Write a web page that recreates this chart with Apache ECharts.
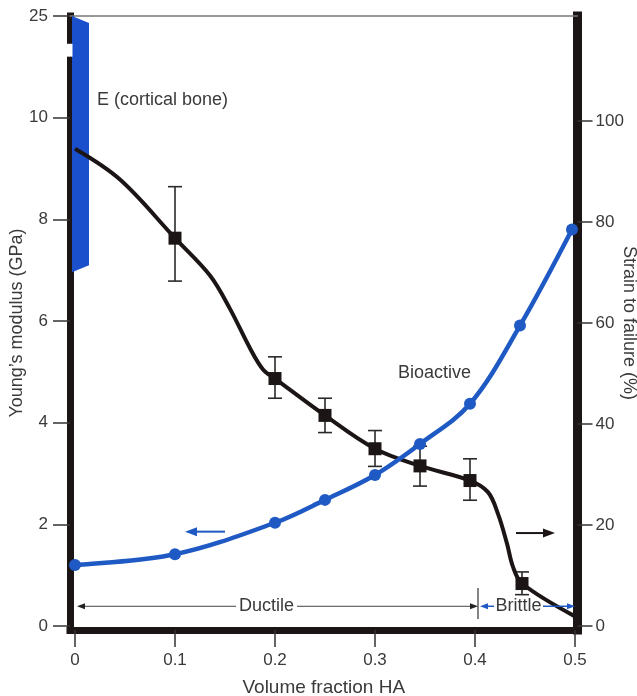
<!DOCTYPE html>
<html><head><meta charset="utf-8">
<script src="https://cdn.jsdelivr.net/npm/echarts@6/dist/echarts.min.js"></script>
<style>html,body{margin:0;padding:0;background:#fff}#c{width:637px;height:696px}</style>
</head><body><div id="c"></div>
<script>
// ---- data ----
const xTicks = [0, 0.1, 0.2, 0.3, 0.4, 0.5];
const modulusTicks = [0, 2, 4, 6, 8, 10, 25];
const strainTicks = [0, 20, 40, 60, 80, 100];

// Young's modulus (GPa), bioactive composite (blue, left axis)
const modulusX = [0, 0.1, 0.2, 0.25, 0.3, 0.345, 0.395, 0.445, 0.497];
const modulusY = [1.2, 1.41, 2.03, 2.48, 2.97, 3.58, 4.37, 5.91, 7.8];

// Strain to failure (%), measured points with error bars (black, right axis)
const strainX = [0.1, 0.2, 0.25, 0.3, 0.345, 0.395, 0.447];
const strainY = [76.8, 49.0, 41.7, 35.1, 31.7, 28.8, 8.4];
const strainLow = [68.3, 45.1, 38.3, 31.6, 27.7, 24.9, 6.2];
const strainHigh = [87.0, 53.3, 45.1, 38.7, 35.6, 33.1, 10.7];

// Strain-to-failure curve as traced on the figure
const curveX = [0, 0.045, 0.1, 0.135, 0.155, 0.175, 0.188, 0.2, 0.25, 0.3, 0.345, 0.395, 0.413, 0.423, 0.432, 0.438, 0.447, 0.5];
const curveY = [94.5, 88.4, 76.8, 69.4, 62.8, 55.0, 50.8, 49.0, 41.7, 35.1, 31.7, 28.8, 26.5, 22.2, 16.3, 11.7, 8.4, 1.9];

// Cortical bone modulus range (GPa)
const boneRange = [7, 25];

// ---- styling ----
const FONT = 'Liberation Sans';
const TXT = '#3a3a3a';
const INK = '#1c1515';
const BLUE = '#1f5ac4';
const BONE = '#1b50cc';

// broken left axis: 10..25 GPa squeezed into 10..12
function brk(v) { return v <= 10 ? v : 10 + (v - 10) * 2 / 15; }
function unbrk(v) { return v <= 10 ? v : 10 + (v - 10) * 7.5; }

const chart = echarts.init(document.getElementById('c'), null, { renderer: 'canvas' });

const labelStyle = { color: TXT, fontFamily: FONT, fontSize: 17 };

const option = {
  animation: false,
  backgroundColor: '#fff',
  grid: { left: 70, right: 59.5, top: 16, bottom: 66, containLabel: false, outerBoundsMode: 'none' },
  xAxis: [{
    type: 'value', min: -0.005, max: 0.5025,
    axisLine: { show: true, onZero: false, lineStyle: { color: INK, width: 7, cap: 'square' } },
    axisTick: { show: true, length: 17, customValues: xTicks, lineStyle: { color: '#333', width: 1.5 } },
    axisLabel: Object.assign({ customValues: xTicks, margin: 22,
      formatter: v => (Math.abs(v) < 1e-9 ? '0' : (+v).toFixed(1)) }, labelStyle),
    splitLine: { show: false },
    name: 'Volume fraction HA', nameLocation: 'middle', nameGap: 48, nameMoveOverlap: false,
    nameTextStyle: { color: TXT, fontFamily: FONT, fontSize: 19 }
  }, {
    type: 'value', position: 'top', min: -0.005, max: 0.5025,
    axisLine: { show: true, onZero: false, lineStyle: { color: '#777', width: 1.5 } },
    axisTick: { show: false }, axisLabel: { show: false }, splitLine: { show: false }
  }],
  yAxis: [{
    type: 'value', position: 'left', min: -0.08, max: 12,
    axisLine: { show: true, onZero: false, lineStyle: { color: INK, width: 7, cap: 'square' } },
    axisTick: { show: true, length: 17, customValues: modulusTicks.map(brk), lineStyle: { color: '#333', width: 1.5 } },
    axisLabel: Object.assign({ customValues: modulusTicks.map(brk), margin: 22,
      formatter: v => String(Math.round(unbrk(v))) }, labelStyle),
    splitLine: { show: false },
    name: "Young’s modulus (GPa)", nameLocation: 'middle', nameGap: 44, nameRotate: 90, nameMoveOverlap: false,
    nameTextStyle: { color: TXT, fontFamily: FONT, fontSize: 18 }
  }, {
    type: 'value', position: 'right', min: -0.8, max: 120.8,
    axisLine: { show: true, onZero: false, lineStyle: { color: INK, width: 9, cap: 'square' } },
    axisTick: { show: true, length: 15, customValues: strainTicks, lineStyle: { color: '#333', width: 1.5 } },
    axisLabel: Object.assign({ customValues: strainTicks, margin: 18 }, labelStyle),
    splitLine: { show: false },
    name: 'Strain to failure (%)', nameLocation: 'middle', nameGap: 42, nameRotate: -90, nameMoveOverlap: false,
    nameTextStyle: { color: TXT, fontFamily: FONT, fontSize: 18 }
  }],
  series: [
    {
      name: 'E (cortical bone)', type: 'custom', xAxisIndex: 0, yAxisIndex: 0, z: 2,
      encode: { x: 0, y: [1, 2] },
      data: [[0, brk(boneRange[0]), brk(boneRange[1])]],
      renderItem: function (params, api) {
        const top = api.coord([api.value(0), api.value(2)]);
        const bot = api.coord([api.value(0), api.value(1)]);
        const xl = top[0] - 3, xr = top[0] + 14;
        return {
          type: 'polygon',
          shape: { points: [[xl, top[1]], [xr, top[1] + 7], [xr, bot[1] - 5], [xl, bot[1] + 2]] },
          style: { fill: BONE }
        };
      }
    },
    {
      name: 'Strain curve', type: 'line', xAxisIndex: 0, yAxisIndex: 1, z: 3,
      data: curveX.map((x, i) => [x, curveY[i]]),
      smooth: 0.35, symbol: 'none',
      lineStyle: { color: INK, width: 4 }
    },
    {
      name: 'Error bars', type: 'custom', xAxisIndex: 0, yAxisIndex: 1, z: 3,
      encode: { x: 0, y: [1, 2] },
      data: strainX.map((x, i) => [x, strainLow[i], strainHigh[i]]),
      renderItem: function (params, api) {
        const hi = api.coord([api.value(0), api.value(2)]);
        const lo = api.coord([api.value(0), api.value(1)]);
        const w = 7;
        const st = { stroke: '#2a2a2a', lineWidth: 1.6 };
        return {
          type: 'group', children: [
            { type: 'line', shape: { x1: hi[0], y1: hi[1], x2: lo[0], y2: lo[1] }, style: st },
            { type: 'line', shape: { x1: hi[0] - w, y1: hi[1], x2: hi[0] + w, y2: hi[1] }, style: st },
            { type: 'line', shape: { x1: lo[0] - w, y1: lo[1], x2: lo[0] + w, y2: lo[1] }, style: st }
          ]
        };
      }
    },
    {
      name: 'Strain to failure', type: 'scatter', xAxisIndex: 0, yAxisIndex: 1, z: 4,
      data: strainX.map((x, i) => [x, strainY[i]]),
      symbol: 'rect', symbolSize: 13,
      itemStyle: { color: INK, opacity: 1 }
    },
    {
      name: 'Bioactive', type: 'line', xAxisIndex: 0, yAxisIndex: 0, z: 5,
      data: modulusX.map((x, i) => [x, brk(modulusY[i])]),
      smooth: 0.35, symbol: 'circle', symbolSize: 12,
      itemStyle: { color: BLUE, opacity: 1 },
      lineStyle: { color: BLUE, width: 4.5 }
    }
  ]
};

chart.setOption(option);

// ---- annotations placed in data space ----
function pL(x, y) { return chart.convertToPixel({ xAxisIndex: 0, yAxisIndex: 0 }, [x, y]); }
function pR(x, y) { return chart.convertToPixel({ xAxisIndex: 0, yAxisIndex: 1 }, [x, y]); }

function text(str, p, align, color) {
  return { type: 'text', x: p[0], y: p[1], z: 20,
    style: { text: str, fill: color || TXT, font: '18px "' + FONT + '"', align: align || 'left', verticalAlign: 'middle' } };
}
function seg(a, b, color, w) {
  return { type: 'line', z: 20, shape: { x1: a[0], y1: a[1], x2: b[0], y2: b[1] }, style: { stroke: color, lineWidth: w } };
}
function head(tip, dir, color, len, half) {
  return { type: 'polygon', z: 21,
    shape: { points: [[tip[0], tip[1]], [tip[0] - dir * len, tip[1] - half], [tip[0] - dir * len, tip[1] + half]] },
    style: { fill: color } };
}

const g = [];
// axis break on left axis (between about 19 and 21 GPa on the squeezed part)
const b1 = pL(-0.005, brk(20.9)), b2 = pL(-0.005, brk(19.0));
g.push({ type: 'rect', z: 19, shape: { x: b1[0] - 5, y: b1[1], width: 7.5, height: b2[1] - b1[1] }, style: { fill: '#fff' } });

g.push(text('E (cortical bone)', pL(0.022, 10.35), 'left'));
g.push(text('Bioactive', pL(0.323, 4.98), 'left'));

// blue arrow -> left axis
const ba0 = pL(0.15, 1.855), ba1 = pL(0.11, 1.855);
g.push(seg(ba0, [ba1[0] + 8, ba1[1]], BLUE, 2));
g.push(head(ba1, -1, BLUE, 12, 4.5));
// black arrow -> right axis
const ka0 = pR(0.441, 18.4), ka1 = pR(0.48, 18.4);
g.push(seg(ka0, [ka1[0] - 8, ka1[1]], INK, 2));
g.push(head(ka1, 1, INK, 12, 4.5));

// Ductile / Brittle bracket
const dy = 3.9;
const d0 = pR(0.002, dy), dt0 = pR(0.161, dy), dt1 = pR(0.222, dy), d1 = pR(0.403, dy);
g.push(seg([d0[0] + 6, d0[1]], dt0, '#444', 1));
g.push(head(d0, -1, '#222', 8, 3));
g.push(seg(dt1, [d1[0] - 6, d1[1]], '#444', 1));
g.push(head(d1, 1, '#222', 8, 3));
g.push(text('Ductile', pR(0.1915, dy), 'center'));
const vt0 = pR(0.403, 7.5), vt1 = pR(0.403, 1.4);
g.push(seg(vt0, vt1, '#333', 1.2));
const br0 = pR(0.405, dy), brt0 = pR(0.419, dy), brt1 = pR(0.468, dy), br1 = pR(0.5, dy);
g.push(head(br0, -1, BLUE, 8, 3));
g.push(seg([br0[0] + 6, br0[1]], brt0, BLUE, 1.5));
g.push(text('Brittle', pR(0.4435, dy), 'center'));
g.push(seg(brt1, [br1[0] - 6, br1[1]], BLUE, 1.5));
g.push(head(br1, 1, BLUE, 8, 3));

chart.setOption({ graphic: g });
</script>
</body></html>
